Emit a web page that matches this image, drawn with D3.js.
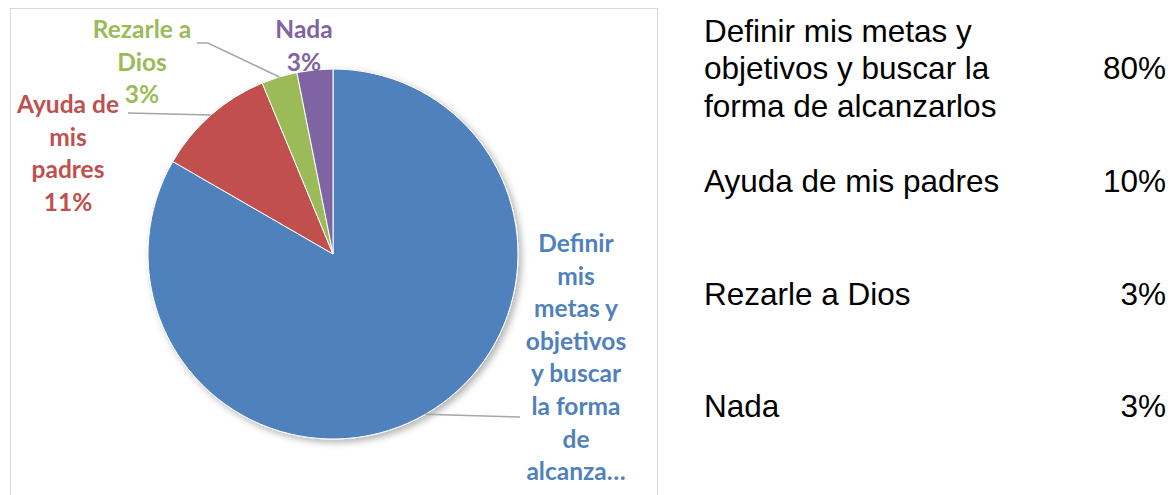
<!DOCTYPE html>
<html>
<head>
<meta charset="utf-8">
<script src="https://cdn.jsdelivr.net/npm/d3@7"></script>
<style>
  html, body { margin: 0; padding: 0; background: #ffffff; }
  svg { display: block; }
</style>
</head>
<body>
<svg id="chart" width="1173" height="495"></svg>
<script>
// ---- data ----
const categories = [
  "Definir mis metas y objetivos y buscar la forma de alcanzarlos",
  "Ayuda de mis padres",
  "Rezarle a Dios",
  "Nada"
];
const values = [80, 10, 3, 3];
const tableLabels = ["80%", "10%", "3%", "3%"];
const tableTextLines = [
  ["Definir mis metas y", "objetivos y buscar la", "forma de alcanzarlos"],
  ["Ayuda de mis padres"],
  ["Rezarle a Dios"],
  ["Nada"]
];
const pieLabelLines = [
  ["Definir", "mis", "metas y", "objetivos", "y buscar", "la forma", "de", "alcanza…"],
  ["Ayuda de", "mis", "padres", "11%"],
  ["Rezarle a", "Dios", "3%"],
  ["Nada", "3%"]
];
const colors = ["#4F81BD", "#C0504D", "#9BBB59", "#8064A2"];

// ---- layout ----
const svg = d3.select("#chart");
const cx = 333, cy = 254, R = 185;
const labelLH = 32.6;
const labelFont = "Lato, 'Open Sans', sans-serif";
// label anchor (center x, first baseline) per slice
const labelPos = [
  {x: 576, y: 252},
  {x: 68, y: 113},
  {x: 142, y: 38},
  {x: 304, y: 38}
];
// leader line end points (null = no leader)
const leaderEnds = [
  [[520, 417]],
  [[128, 113]],
  [[208, 43], [197, 43]],
  null
];

// frame
svg.append("rect")
  .attr("x", 10.5).attr("y", 8.5)
  .attr("width", 647).attr("height", 500)
  .attr("fill", "none").attr("stroke", "#d9d9d9").attr("stroke-width", 1);

// shadow filter
const defs = svg.append("defs");
const f = defs.append("filter").attr("id", "sh").attr("x", "-10%").attr("y", "-10%").attr("width", "130%").attr("height", "130%");
f.append("feDropShadow").attr("dx", 3).attr("dy", 3).attr("stdDeviation", 3.5)
  .attr("flood-color", "#000").attr("flood-opacity", 0.3);

const pie = d3.pie().sort(null).value(d => d)
  .startAngle(0).endAngle(2 * Math.PI);
const arcs = pie(values);
const arc = d3.arc().innerRadius(0).outerRadius(R);
const edgeArc = d3.arc().innerRadius(R).outerRadius(R);

const g = svg.append("g").attr("transform", `translate(${cx},${cy})`);
g.append("g").attr("filter", "url(#sh)")
  .selectAll("path").data(arcs).enter().append("path")
  .attr("d", arc)
  .attr("fill", (d, i) => colors[i])
  .attr("stroke", "#ffffff").attr("stroke-width", 1);

// leader lines
arcs.forEach((d, i) => {
  if (!leaderEnds[i]) return;
  const c = edgeArc.centroid(d);
  const pts = [[cx + c[0], cy + c[1]], ...leaderEnds[i]];
  svg.append("path")
    .attr("d", d3.line()(pts))
    .attr("fill", "none").attr("stroke", "#a6a6a6").attr("stroke-width", 1.5);
});

// pie labels
pieLabelLines.forEach((lines, i) => {
  const t = svg.append("text")
    .attr("text-anchor", "middle")
    .attr("font-family", labelFont)
    .attr("font-weight", "bold")
    .attr("font-size", 24.5)
    .attr("fill", colors[i]);
  lines.forEach((ln, k) => {
    t.append("tspan").attr("x", labelPos[i].x).attr("y", labelPos[i].y + k * labelLH).text(ln);
  });
});

// right-side table
const tableBase = [42, 192, 305, 417];
const tableLH = 37.3;
const pctLine = [1, 0, 0, 0];
tableTextLines.forEach((lines, i) => {
  const t = svg.append("text")
    .attr("font-family", "'Liberation Sans', Arial, sans-serif")
    .attr("font-size", 31.5)
    .attr("fill", "#000");
  lines.forEach((ln, k) => {
    t.append("tspan").attr("x", 704).attr("y", tableBase[i] + k * tableLH).text(ln);
  });
  svg.append("text")
    .attr("x", 1166).attr("y", tableBase[i] + pctLine[i] * tableLH)
    .attr("text-anchor", "end")
    .attr("font-family", "'Liberation Sans', Arial, sans-serif")
    .attr("font-size", 31.5)
    .attr("fill", "#000")
    .text(tableLabels[i]);
});
</script>
</body>
</html>
